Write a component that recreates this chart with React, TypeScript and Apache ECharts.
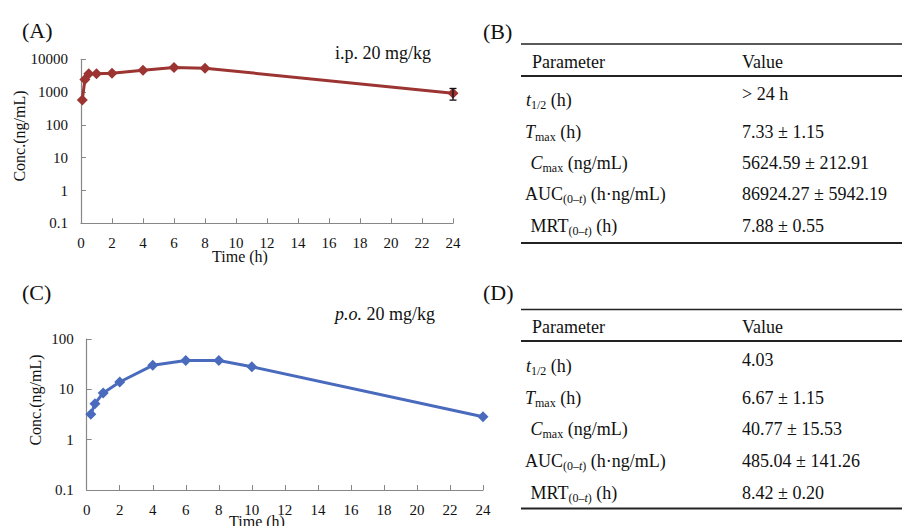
import React, { useEffect, useRef } from "react";
import * as echarts from "echarts";

const timeA = [0.083, 0.25, 0.5, 1, 2, 4, 6, 8, 24];
const concA = [570, 2430, 3650, 3600, 3750, 4640, 5600, 5340, 930];
const errA = [0, 0, 0, 0, 0, 0, 0, 0, 360];

const timeC = [0.25, 0.5, 1, 2, 4, 6, 8, 10, 24];
const concC = [3.2, 5.2, 8.5, 14, 30, 37.3, 37.3, 28, 2.85];

const paramRows = [
  "{it|t}{sub|1/2}{n| (h)}",
  "{it|T}{sub|max}{n| (h)}",
  "{n| }{it|C}{sub|max}{n| (ng/mL)}",
  "{n|AUC}{sub|(0\u2013}{subi|t}{sub|)}{n| (h\u00b7ng/mL)}",
  "{n| MRT}{sub|(0\u2013}{subi|t}{sub|)}{n| (h)}",
];
const valuesB = ["> 24 h", "7.33 \u00b1 1.15", "5624.59 \u00b1 212.91", "86924.27 \u00b1 5942.19", "7.88 \u00b1 0.55"];
const valuesD = ["4.03", "6.67 \u00b1 1.15", "40.77 \u00b1 15.53", "485.04 \u00b1 141.26", "8.42 \u00b1 0.20"];

const SERIF = "'Liberation Serif', 'Times New Roman', serif";
const RED = "#9c3532";
const BLUE = "#4a6bbd";
const AXIS = "#878787";

const rich = {
  n: { fontSize: 18, fontFamily: SERIF, lineHeight: 22, fill: "#111" },
  it: { fontSize: 18, fontFamily: SERIF, fontStyle: "italic", lineHeight: 22, fill: "#111" },
  sub: { fontSize: 12, fontFamily: SERIF, lineHeight: 12, verticalAlign: "bottom", fill: "#111" },
  subi: { fontSize: 12, fontFamily: SERIF, fontStyle: "italic", lineHeight: 12, verticalAlign: "bottom", fill: "#111" },
};

function fmt(v: number) {
  return String(Number(v.toPrecision(6)));
}

function txt(text: string, x: number, y: number, size: number, extra: any = {}) {
  return {
    type: "text",
    x,
    y,
    style: {
      text,
      fontSize: size,
      fontFamily: SERIF,
      fill: "#111",
      verticalAlign: "middle",
      align: "left",
      ...extra,
    },
  };
}

function hline(x1: number, x2: number, y: number, w: number) {
  return {
    type: "line",
    shape: { x1, y1: y, x2, y2: y },
    style: { stroke: "#222", lineWidth: w },
  };
}

function table(top: number, headY: number, headLine: number, paramY: number[], valY: number[], bottom: number, vals: string[]) {
  const els: any[] = [];
  els.push(hline(521, 902, top, 1.5));
  els.push(hline(521, 902, headLine, 2.2));
  els.push(hline(521, 902, bottom, 2));
  els.push(txt("Parameter", 532, headY, 18));
  els.push(txt("Value", 742, headY, 18));
  const px = [526, 525, 526, 525, 526];
  paramRows.forEach((r, i) => {
    els.push({
      type: "text",
      x: px[i],
      y: paramY[i],
      style: { text: r, rich, verticalAlign: "middle", align: "left" },
    });
  });
  vals.forEach((v, i) => {
    els.push(txt(v, 742, valY[i], 18));
  });
  return els;
}

function xAxisCfg(gridIndex: number) {
  return {
    type: "value",
    gridIndex,
    min: 0,
    max: 24,
    interval: 2,
    axisLine: { show: true, lineStyle: { color: AXIS, width: 1.2 } },
    axisTick: { show: true, inside: true, length: 5, lineStyle: { color: AXIS } },
    axisLabel: { color: "#111", fontSize: 15, fontFamily: SERIF, margin: 12 },
    splitLine: { show: false },
  };
}

function yAxisCfg(gridIndex: number, max: number) {
  return {
    type: "log",
    logBase: 10,
    gridIndex,
    min: 0.1,
    max,
    axisLine: { show: true, lineStyle: { color: AXIS, width: 1.2 } },
    axisTick: { show: true, inside: true, length: 5, lineStyle: { color: AXIS } },
    axisLabel: { color: "#111", fontSize: 15, fontFamily: SERIF, margin: 13, formatter: (v: number) => fmt(v) },
    splitLine: { show: false },
    minorTick: { show: false },
  };
}

export default function App() {
  const ref = useRef<HTMLDivElement>(null);
  useEffect(() => {
    if (!ref.current) return;
    const chart = echarts.init(ref.current, undefined, { renderer: "svg" });
    const graphics: any[] = [
      txt("(A)", 22, 30, 22),
      txt("(C)", 22, 292, 22),
      txt("(B)", 483, 31, 22),
      txt("(D)", 483, 292, 22),
      txt("i.p. 20 mg/kg", 335, 53, 18),
      {
        type: "text",
        x: 335,
        y: 314,
        style: {
          text: "{it|p.o.}{n| 20 mg/kg}",
          rich,
          verticalAlign: "middle",
          align: "left",
        },
      },
      txt("Time (h)", 240, 256, 16, { align: "center" }),
      txt("Time (h)", 257, 521, 16, { align: "center" }),
      { ...txt("Conc.(ng/mL)", 19, 136, 16, { align: "center" }), rotation: Math.PI / 2 },
      { ...txt("Conc.(ng/mL)", 35, 400, 16, { align: "center" }), rotation: Math.PI / 2 },
      ...table(44, 62, 76, [100, 132, 163, 194, 226], [94, 132, 163, 194, 226], 243, valuesB),
      ...table(309.5, 327, 341, [366, 398, 429, 461, 493], [360, 398, 429, 461, 493], 508.5, valuesD),
    ];
    chart.setOption({
      animation: false,
      backgroundColor: "#fff",
      grid: [
        { left: 81, top: 59.3, width: 372, height: 164, containLabel: false },
        { left: 86.7, top: 339, width: 396.3, height: 151, containLabel: false },
      ],
      xAxis: [xAxisCfg(0), xAxisCfg(1)],
      yAxis: [yAxisCfg(0, 10000), yAxisCfg(1, 100)],
      series: [
        {
          type: "line",
          xAxisIndex: 0,
          yAxisIndex: 0,
          data: timeA.map((t, i) => [t, concA[i]]),
          symbol: "diamond",
          symbolSize: 11,
          lineStyle: { color: RED, width: 3 },
          itemStyle: { color: RED },
          z: 3,
        },
        {
          type: "custom",
          xAxisIndex: 0,
          yAxisIndex: 0,
          data: timeA.map((t, i) => [t, concA[i], errA[i]]).filter((d) => d[2] > 0),
          renderItem: (params: any, api: any) => {
            const x = api.value(0);
            const y = api.value(1);
            const e = api.value(2);
            const top = api.coord([x, y + e]);
            const bot = api.coord([x, y - e]);
            const st = { stroke: "#111", lineWidth: 1.3 };
            return {
              type: "group",
              children: [
                { type: "line", shape: { x1: top[0], y1: top[1], x2: bot[0], y2: bot[1] }, style: st },
                { type: "line", shape: { x1: top[0] - 3.5, y1: top[1], x2: top[0] + 3.5, y2: top[1] }, style: st },
                { type: "line", shape: { x1: bot[0] - 3.5, y1: bot[1], x2: bot[0] + 3.5, y2: bot[1] }, style: st },
              ],
            };
          },
          z: 4,
        },
        {
          type: "line",
          xAxisIndex: 1,
          yAxisIndex: 1,
          data: timeC.map((t, i) => [t, concC[i]]),
          symbol: "diamond",
          symbolSize: 11,
          lineStyle: { color: BLUE, width: 3 },
          itemStyle: { color: BLUE },
          z: 3,
        },
      ],
      graphic: graphics,
    });
    return () => chart.dispose();
  }, []);
  return (
    <div
      ref={ref}
      style={{ position: "absolute", left: 0, top: 0, width: 902, height: 526, background: "#fff" }}
    />
  );
}
